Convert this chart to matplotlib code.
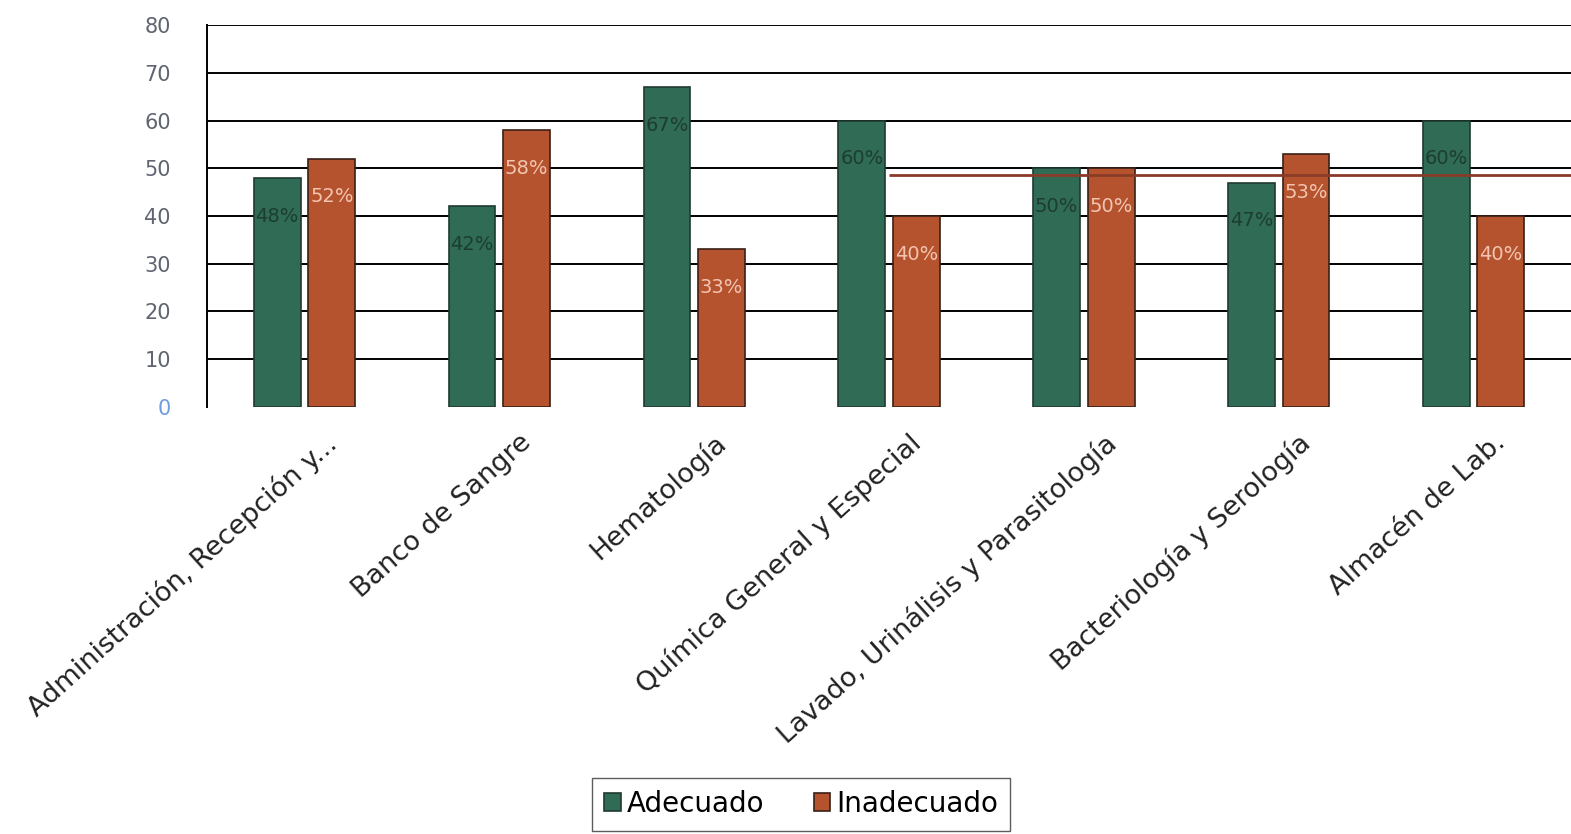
import matplotlib.pyplot as plt
import numpy as np

# Chart data
categories = ['Administración, Recepción y...', 'Banco de Sangre', 'Hematología',
              'Química General y Especial', 'Lavado, Urinálisis y Parasitología',
              'Bacteriología y Serología', 'Almacén de Lab.']
adecuado = [48, 42, 67, 60, 50, 47, 60]
inadecuado = [52, 58, 33, 40, 50, 53, 40]
yticks = [0, 10, 20, 30, 40, 50, 60, 70, 80]
ref_value = 48.5   # brown line seen across the right half
ref_from = 3       # starts at the 4th category

green = '#2f6b55'
red = '#b5532f'

fig = plt.figure(figsize=(15.71, 8.34), dpi=100)
ax = fig.add_axes([0.1318, 0.512, 0.8682, 0.458])

x = np.arange(len(categories))
w = 0.24
off = 0.14

# Grid lines behind bars
for t in yticks[1:]:
    ax.axhline(t, color='black', lw=1.4, zorder=0)

b1 = ax.bar(x - off, adecuado, w, color=green, edgecolor='#1f3a30', lw=1.2,
            label='Adecuado', zorder=2)
b2 = ax.bar(x + off, inadecuado, w, color=red, edgecolor='#3a2018', lw=1.2,
            label='Inadecuado', zorder=2)

ax.hlines(ref_value, ref_from, 6.5, color='#8a3b28', lw=2, zorder=3)

# Percent labels inside the bars
for xi, v in zip(x - off, adecuado):
    ax.text(xi, v - 8, f'{v}%', ha='center', va='center', fontsize=14,
            color='#1d3d30', zorder=4)
for xi, v in zip(x + off, inadecuado):
    ax.text(xi, v - 8, f'{v}%', ha='center', va='center', fontsize=14,
            color='#f3c4b0', zorder=4)

ax.set_xlim(-0.5, 6.5)
ax.set_ylim(0, 80)
ax.set_yticks(yticks)
ax.set_yticklabels([str(t) for t in yticks], fontsize=15, color='#5f6470')
ax.get_yticklabels()[0].set_color('#6f9be0')
ax.tick_params(axis='y', length=0, pad=26)
ax.set_xticks(x + 0.1)
ax.set_xticklabels(categories, rotation=42, ha='right', rotation_mode='anchor',
                   fontsize=19.5, color='#222222')
ax.tick_params(axis='x', length=0, pad=16)

for s in ['top', 'right', 'bottom']:
    ax.spines[s].set_visible(False)
ax.spines['left'].set_color('black')
ax.spines['left'].set_linewidth(1.4)

fig.legend(handles=[b1, b2], labels=['Adecuado', 'Inadecuado'], loc='center',
           bbox_to_anchor=(801 / 1571, 1 - 804 / 834), ncol=2, fontsize=20,
           frameon=True, fancybox=False, edgecolor='#333333',
           handlelength=0.6, handleheight=0.6, handletextpad=0.2,
           columnspacing=1.8, borderpad=0.45, borderaxespad=0)

fig.savefig('out.png', dpi=100)
